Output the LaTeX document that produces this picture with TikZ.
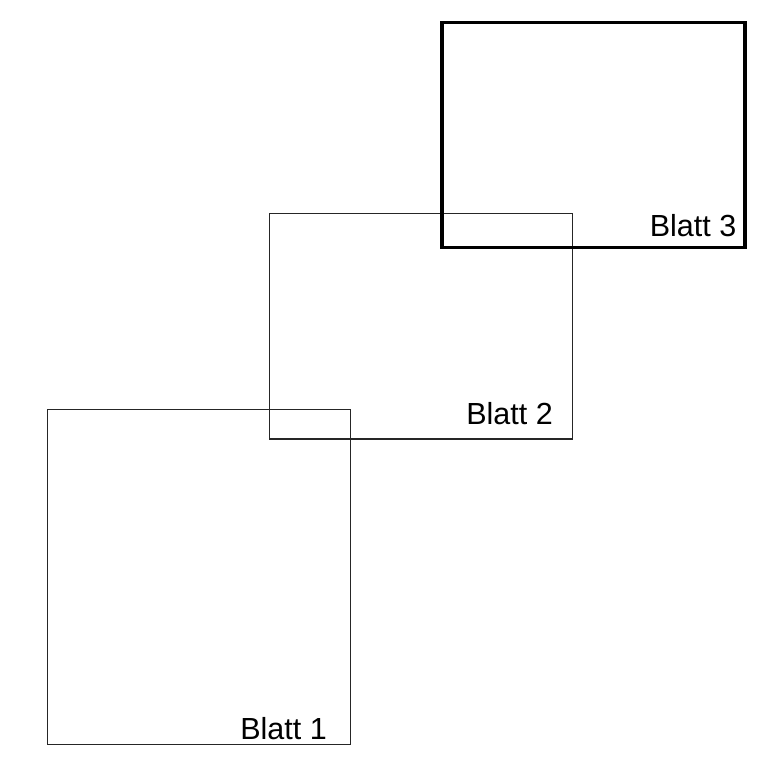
\documentclass[tikz,border=0pt]{standalone}
\usepackage{fontspec}
\setmainfont{Liberation Sans}
\begin{document}
\begin{tikzpicture}[x=1pt,y=1pt,
  sheet/.style={draw=black!85, line width=1.2pt, rectangle, inner sep=0pt, minimum width=303pt},
  sheetthick/.style={draw=black, line width=3.6pt, rectangle, inner sep=0pt, minimum width=303pt},
  lab/.style={inner sep=0pt, anchor=base east, font=\fontsize{30.5}{36}\selectfont}]
\useasboundingbox (0,0) rectangle (764,764);
\node[sheet, minimum height=335pt] (b1) at (199.2,187.3) {};
\node[sheet, minimum height=225.7pt] (b2) at (421.2,437.8) {};
\node[sheetthick, minimum height=225pt] (b3) at (593.5,628.8) {};
\node[lab] (l1) at (327,24.7) {Blatt 1};
\node[lab] (l2) at (553,339) {Blatt 2};
\node[lab] (l3) at (736.5,527.3) {Blatt 3};
\end{tikzpicture}
\end{document}
